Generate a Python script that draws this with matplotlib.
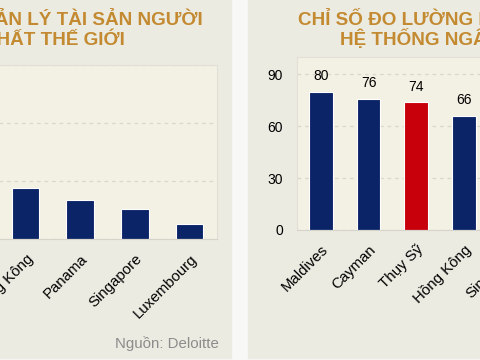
import matplotlib
matplotlib.use("Agg")
import matplotlib.pyplot as plt
from matplotlib.patches import Rectangle

plt.rcParams['font.family'] = ['Liberation Sans', 'DejaVu Sans']

# left chart (cropped at the left edge): wealth management centres
left_labels = ["Hồng Kông", "Panama", "Singapore", "Luxembourg"]
left_values = [0.88, 0.67, 0.52, 0.26]
left_ticks = [0, 1, 2, 3]

# right chart (cropped at the right edge): banking secrecy index
right_labels = ["Maldives", "Cayman", "Thụy Sỹ", "Hồng Kông", "Singapore"]
right_values = [80, 76, 74, 66, 64]
right_highlight = "Thụy Sỹ"
right_ticks = [0, 30, 60, 90]

NAVY = "#0b2467"
RED = "#c8000b"
PANEL = "#ecebe1"
PLOT_BG = "#f3f1e3"
GRID = "#dad8cd"
TITLE = "#c38a31"

W, H = 480, 360
fig = plt.figure(figsize=(4.8, 3.6), dpi=100, facecolor="#f8f8f6")


def px(x, y):
    # pixel position (from top-left) -> figure fraction
    return x / W, 1 - y / H


def axes_box(x0, y_top, x1, y_bottom):
    return [x0 / W, 1 - y_bottom / H, (x1 - x0) / W, (y_bottom - y_top) / H]


# panel backgrounds (behind the axes)
fig.patches.append(Rectangle((0, 2 / H), 231 / W, 1, transform=fig.transFigure,
                             color=PANEL, zorder=-5))
fig.patches.append(Rectangle((248 / W, 2 / H), 1, 1, transform=fig.transFigure,
                             color=PANEL, zorder=-5))


def style_axes(ax, ymax, ticks):
    ax.set_facecolor(PLOT_BG)
    ax.set_ylim(0, ymax)
    ax.set_yticks(ticks)
    ax.grid(axis="y", color=GRID, linestyle=(0, (3, 3)), linewidth=0.9)
    ax.set_axisbelow(True)
    for s in ax.spines.values():
        s.set_color("#e2e0d6")
        s.set_linewidth(0.8)
    ax.spines["bottom"].set_color("#d6d4ca")
    ax.tick_params(length=0, labelsize=10, colors="black")
    ax.tick_params(axis="x", labelsize=10.8, pad=9)


# ---- left chart
axl = fig.add_axes(axes_box(-2, 65, 217, 239))
xl = range(len(left_labels))
axl.bar(xl, left_values, width=0.5, color=NAVY, edgecolor="white", linewidth=0.8)
axl.set_xlim(-0.5, len(left_labels) - 0.5)
style_axes(axl, 3, left_ticks)
axl.set_yticklabels([])
axl.set_xticks(list(xl))
axl.set_xticklabels(left_labels, rotation=45, ha="right", rotation_mode="anchor")

# ---- right chart
axr = fig.add_axes(axes_box(297, 57, 297 + 47.7 * len(right_labels), 230))
xr = range(len(right_labels))
cols = [RED if c == right_highlight else NAVY for c in right_labels]
bars = axr.bar(xr, right_values, width=0.5, color=cols, edgecolor="white", linewidth=0.8)
axr.set_xlim(-0.5, len(right_labels) - 0.5)
style_axes(axr, 100, right_ticks)
axr.tick_params(axis="y", pad=10)
axr.set_xticks(list(xr))
axr.set_xticklabels(right_labels, rotation=45, ha="right", rotation_mode="anchor")
for b, v in zip(bars, right_values):
    axr.annotate(str(v), (b.get_x() + b.get_width() / 2, v), xytext=(0, 6),
                 textcoords="offset points", ha="center", va="bottom", fontsize=10)

# ---- titles (both cut by the crop)
tkw = dict(color=TITLE, fontsize=13.6, fontweight="bold")
fig.text(*px(203, 25), "TRUNG TÂM QUẢN LÝ TÀI SẢN NGƯỜI", ha="right", va="baseline", **tkw)
fig.text(*px(125, 45), "GIÀU LỚN NHẤT THẾ GIỚI", ha="right", va="baseline", **tkw)
fig.text(*px(298, 25), "CHỈ SỐ ĐO LƯỜNG MỨC ĐỘ BÍ MẬT", ha="left", va="baseline", **tkw)
fig.text(*px(340, 45), "HỆ THỐNG NGÂN HÀNG", ha="left", va="baseline", **tkw)

fig.text(*px(219, 348), "Nguồn: Deloitte", ha="right", va="baseline",
         color="#8c8c8c", fontsize=10.8)

fig.savefig("out.png", dpi=100, facecolor=fig.get_facecolor())
